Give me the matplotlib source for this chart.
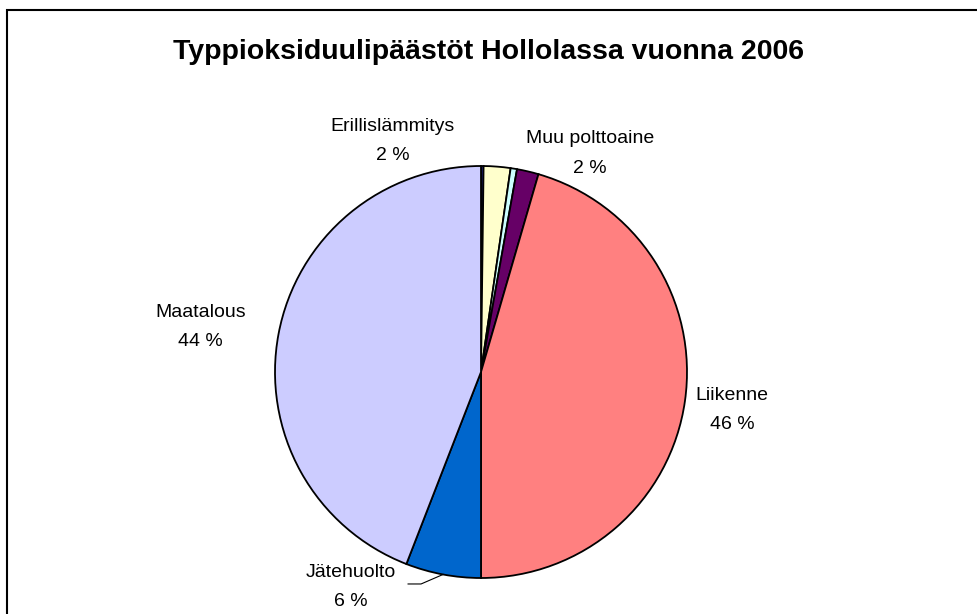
import numpy as np
import matplotlib.pyplot as plt
from matplotlib.patches import Rectangle

plt.rcParams['font.family'] = ['Liberation Sans', 'DejaVu Sans']

# data, clockwise from 12 o'clock
sectors = ["Muu", "Erillislämmitys", "Muu2", "Muu polttoaine", "Liikenne", "Jätehuolto", "Maatalous"]
shares = [0.2, 2.1, 0.5, 1.7, 45.5, 5.9, 44.1]
shown = ["", "2 %", "", "2 %", "46 %", "6 %", "44 %"]
colors = ["#3333CC", "#FFFFCC", "#CCFFFF", "#660066", "#FF8080", "#0066CC", "#CCCCFF"]

# label centres in axis units (pie radius = 1)
label_pos = {1: (-0.43, 1.12), 3: (0.53, 1.06), 4: (1.22, -0.185), 5: (-0.63, -1.045), 6: (-1.36, 0.218)}

W, H = 978, 614
cx, cy, R = 481, 372, 206

fig = plt.figure(figsize=(W / 100, H / 100), dpi=100)
ax = fig.add_axes([0, 0, 1, 1])
wedges, _ = ax.pie(shares, colors=colors, startangle=90, counterclock=False,
                   radius=1, wedgeprops=dict(edgecolor="black", linewidth=1.3))
ax.set_aspect('auto')
ax.set_xlim(-cx / R, (W - cx) / R)
ax.set_ylim(-(H - cy) / R, cy / R)
ax.axis('off')

for i, (x, y) in label_pos.items():
    ax.text(x, y, sectors[i] + "\n" + shown[i], ha="center", va="center",
            fontsize=14, linespacing=1.95)

# leader line for Jätehuolto
w = wedges[5]
mid = np.deg2rad((w.theta1 + w.theta2) / 2)
ax.plot([-0.354, -0.291, np.cos(mid)], [-1.029, -1.029, np.sin(mid)], color="black", lw=0.8)

fig.text(0.5, 1 - 52 / H, "Typpioksiduulipäästöt Hollolassa vuonna 2006",
         ha="center", va="center", fontsize=20.5, fontweight="bold")

# chart area frame
fig.patches.append(Rectangle((7 / W, -0.1), 1.2, 1 - 10 / H + 0.1, transform=fig.transFigure,
                             fill=False, edgecolor="black", linewidth=1.5))

fig.savefig("out.png", dpi=100)
